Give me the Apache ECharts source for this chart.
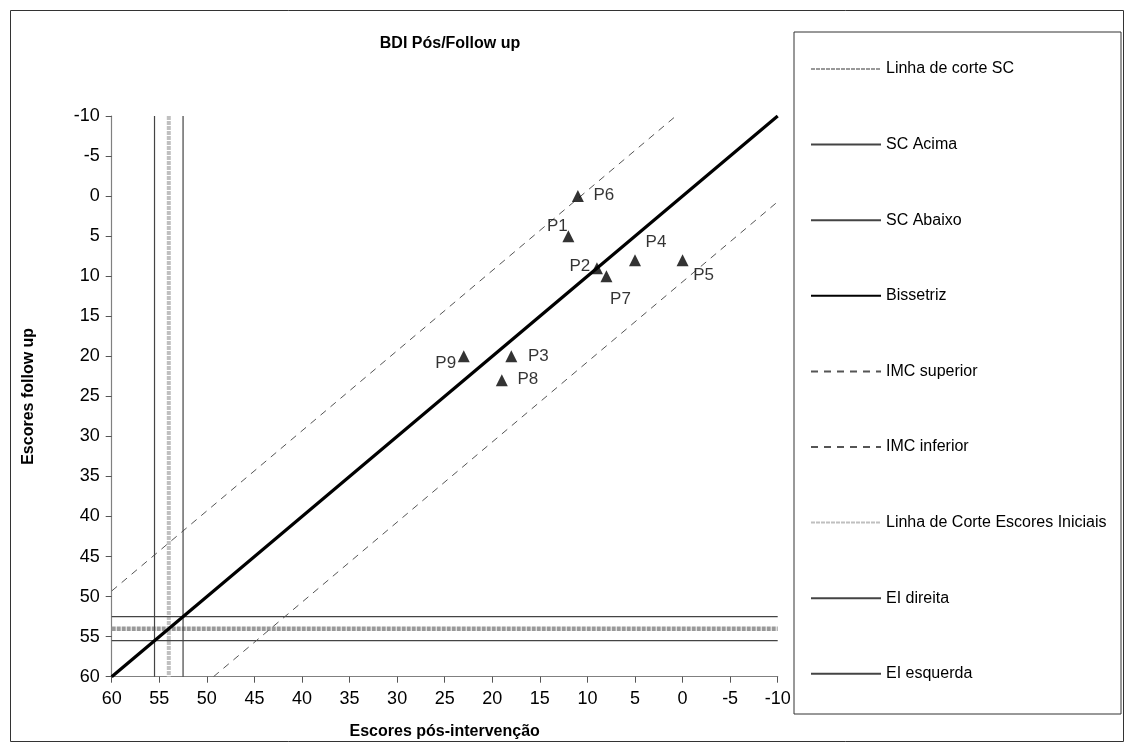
<!DOCTYPE html>
<html><head><meta charset="utf-8">
<script src="https://cdn.jsdelivr.net/npm/echarts@6/dist/echarts.min.js"></script>
<style>html,body{margin:0;padding:0;background:#fff}#c{width:1128px;height:746px}</style>
</head><body><div id="c"></div>
<script>
// ---- data ----
const pointNames   = ['P1', 'P2', 'P3', 'P4', 'P5', 'P6', 'P7', 'P8', 'P9'];
const posScores    = [12, 9, 18, 5, 0, 11, 8, 19, 23];     // Escores pós-intervenção
const followScores = [5, 9, 20, 8, 8, 0, 10, 23, 20];      // Escores follow up

const linhaCorteSC       = [[60, 54], [-10, 54]];
const scAcima            = [[60, 52.5], [-10, 52.5]];
const scAbaixo           = [[60, 55.5], [-10, 55.5]];
const bissetriz          = [[60, 60], [-10, -10]];
const imcSuperior        = [[60, 49.3], [0.7, -10]];
const imcInferior        = [[49.3, 60], [-10, 0.7]];
const linhaCorteIniciais = [[54, -10], [54, 60]];
const eiDireita          = [[52.5, -10], [52.5, 60]];
const eiEsquerda         = [[55.5, -10], [55.5, 60]];

const axisMin = -10, axisMax = 60, axisStep = 5;

// ---- styling (kept apart from data) ----
const FONT = 'Liberation Sans, Arial, sans-serif';
const labelOffsets = {
  P1: [-11, -10], P2: [-17, -2], P3: [27, 0], P4: [21, -18], P5: [21, 15],
  P6: [26, -1], P7: [14, 23], P8: [26, -1], P9: [-18, 7]
};

function lineSeries(name, data, style, z) {
  return { name, type: 'line', data, symbol: 'none', silent: true, animation: false,
           lineStyle: style, itemStyle: { color: style.color }, z: z || 2 };
}

const series = [
  lineSeries('Linha de corte SC', linhaCorteSC, { color: '#999999', width: 4.5, type: [4, 1] }, 2),
  lineSeries('SC Acima', scAcima, { color: '#444', width: 1.2 }, 3),
  lineSeries('SC Abaixo', scAbaixo, { color: '#444', width: 1.2 }, 3),
  lineSeries('Bissetriz', bissetriz, { color: '#000', width: 3.2 }, 5),
  lineSeries('IMC superior', imcSuperior, { color: '#555', width: 1, type: [7, 6] }, 3),
  lineSeries('IMC inferior', imcInferior, { color: '#555', width: 1, type: [7, 6] }, 3),
  lineSeries('Linha de Corte Escores Iniciais', linhaCorteIniciais, { color: '#c0c0c0', width: 4, type: [4, 1] }, 2),
  lineSeries('EI direita', eiDireita, { color: '#444', width: 1.2 }, 3),
  lineSeries('EI esquerda', eiEsquerda, { color: '#444', width: 1.2 }, 3),
  {
    name: 'Pacientes', type: 'scatter', symbol: 'triangle', symbolSize: [12, 12],
    itemStyle: { color: '#000' }, animation: false, z: 6,
    data: pointNames.map((n, i) => ({ name: n, value: [posScores[i], followScores[i]],
      label: { offset: labelOffsets[n] } })),
    label: { show: true, formatter: '{b}', position: 'inside', align: 'center', verticalAlign: 'middle',
             color: '#000', fontSize: 17, fontFamily: FONT }
  }
];

const chart = echarts.init(document.getElementById('c'), null, { renderer: 'canvas' });
chart.setOption({
  backgroundColor: '#fff',
  animation: false,
  title: { text: 'BDI Pós/Follow up', left: 445, top: 31, textAlign: 'center',
           textStyle: { fontSize: 16, fontWeight: 'bold', color: '#000', fontFamily: FONT } },
  grid: { left: 111.7, right: 350.3, top: 116, bottom: 69.3, containLabel: false },
  legend: {
    data: series.slice(0, 9).map(s => s.name), orient: 'vertical', left: 805, top: 56,
    itemWidth: 70, itemHeight: 18, itemGap: 59.6, selectedMode: false,
    itemStyle: { opacity: 0 },
    textStyle: { fontSize: 16, color: '#000', fontFamily: FONT }
  },
  xAxis: {
    type: 'value', inverse: true, min: axisMin, max: axisMax, interval: axisStep,
    name: 'Escores pós-intervenção', nameLocation: 'middle', nameGap: 47,
    nameTextStyle: { fontSize: 16, fontWeight: 'bold', color: '#000', fontFamily: FONT },
    axisLine: { onZero: false, lineStyle: { color: '#808080', width: 1.2 } },
    axisTick: { show: true, length: 6, lineStyle: { color: '#555' } },
    axisLabel: { fontSize: 18, color: '#000', margin: 13, fontFamily: FONT },
    splitLine: { show: false }
  },
  yAxis: {
    type: 'value', inverse: true, min: axisMin, max: axisMax, interval: axisStep,
    name: 'Escores follow up', nameLocation: 'middle', nameGap: 75,
    nameTextStyle: { fontSize: 16, fontWeight: 'bold', color: '#000', fontFamily: FONT },
    axisLine: { onZero: false, lineStyle: { color: '#808080', width: 1.2 } },
    axisTick: { show: true, length: 6, lineStyle: { color: '#555' } },
    axisLabel: { fontSize: 18, color: '#000', margin: 12, fontFamily: FONT },
    splitLine: { show: false }
  },
  graphic: [
    { type: 'rect', left: 8, top: 8, silent: true, z: -1,
      shape: { width: 1113, height: 731 }, style: { fill: 'none', stroke: '#333', lineWidth: 1 } },
    { type: 'rect', left: 791.5, top: 29.5, silent: true, z: -1,
      shape: { width: 327, height: 682 }, style: { fill: 'none', stroke: '#333', lineWidth: 1 } }
  ],
  series
});
</script></body></html>
